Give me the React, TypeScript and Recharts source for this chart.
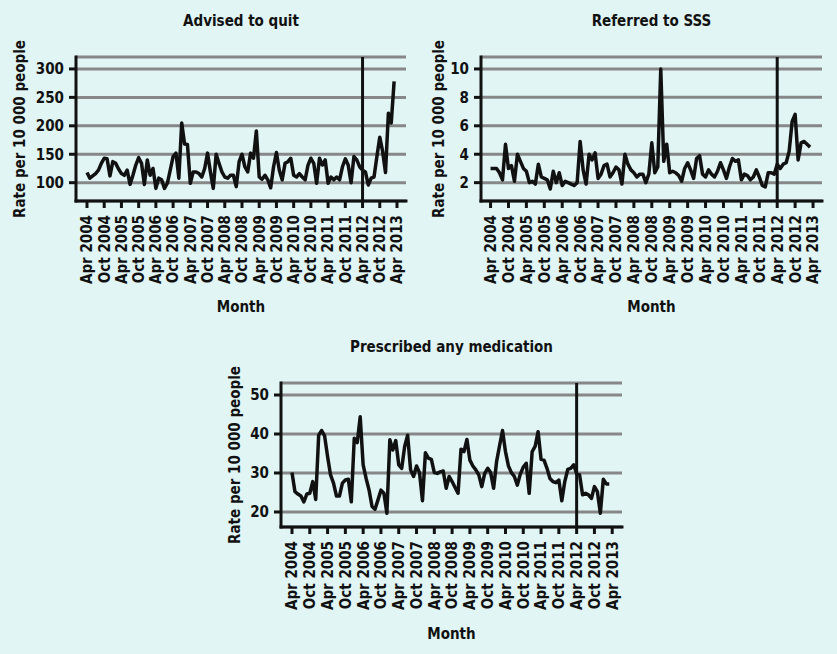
import React from "react";
import { LineChart, Line, XAxis, YAxis, CartesianGrid, ReferenceLine } from "recharts";

// x tick labels, one every 6 months from Apr 2004 (month index 0)
const tickLabels = [
  "Apr 2004", "Oct 2004", "Apr 2005", "Oct 2005", "Apr 2006", "Oct 2006", "Apr 2007",
  "Oct 2007", "Apr 2008", "Oct 2008", "Apr 2009", "Oct 2009", "Apr 2010", "Oct 2010",
  "Apr 2011", "Oct 2011", "Apr 2012", "Oct 2012", "Apr 2013",
];
const tickMonths = tickLabels.map((_, i) => i * 6);
const interventionMonth = 96; // Apr 2012

// monthly rates per 10 000 people, Apr 2004 - Mar 2013
const advised = [
  118, 108, 112, 116, 122, 134, 143, 142, 112, 137, 134, 124,
  116, 113, 122, 97, 113, 131, 144, 134, 97, 140, 113, 125,
  90, 108, 105, 90, 99, 122, 146, 152, 108, 205, 168, 167,
  99, 119, 119, 116, 110, 125, 152, 119, 90, 150, 134, 119,
  110, 108, 113, 113, 93, 137, 150, 128, 119, 152, 143, 191,
  110, 106, 113, 105, 91, 128, 153, 122, 105, 134, 137, 143,
  113, 110, 116, 110, 105, 131, 143, 134, 99, 143, 131, 140,
  99, 110, 105, 110, 105, 128, 142, 131, 100, 146, 140, 128,
  122, 119, 96, 108, 110, 146, 180, 155, 118, 222, 205, 278,
];

const referred = [
  3.0, 3.0, 3.0, 2.7, 2.2, 4.7, 3.0, 3.2, 2.1, 4.0, 3.5, 3.0,
  2.8, 2.0, 2.1, 1.9, 3.3, 2.4, 2.3, 2.2, 1.55, 2.8, 2.0, 2.7,
  1.8, 2.1, 2.0, 1.9, 1.8, 2.0, 4.9, 2.9, 1.9, 4.0, 3.6, 4.1,
  2.3, 2.6, 3.2, 3.3, 2.4, 2.7, 3.1, 2.9, 1.9, 4.0, 3.3, 2.9,
  2.7, 2.4, 2.6, 2.6, 2.0, 2.6, 4.8, 2.7, 3.1, 10.0, 3.5, 4.7,
  2.7, 2.8, 2.7, 2.5, 2.1, 3.0, 3.4, 2.9, 2.3, 3.7, 3.9, 2.6,
  2.4, 2.9, 2.6, 2.4, 2.8, 3.4, 2.9, 2.3, 3.1, 3.7, 3.5, 3.6,
  2.2, 2.6, 2.5, 2.2, 2.4, 2.9, 2.4, 1.8, 1.7, 2.7, 2.7, 2.6,
  3.3, 3.0, 3.3, 3.4, 4.2, 6.3, 6.8, 3.6, 4.8, 4.9, 4.7, 4.5,
];

const prescribed = [
  30.1, 25.2, 24.6, 24.1, 22.6, 24.6, 24.8, 27.8, 23.2, 39.7, 40.9, 39.5,
  34.2, 29.5, 27.4, 24.1, 24.1, 27.4, 28.2, 28.4, 22.6, 38.9, 37.8, 44.4,
  32.1, 28.6, 25.6, 21.4, 20.7, 23.1, 25.6, 24.8, 19.7, 38.5, 35.9, 38.3,
  32.1, 31.2, 36.8, 39.7, 30.8, 29.1, 31.8, 30.1, 22.9, 35.2, 33.8, 33.5,
  30.1, 29.9, 30.3, 30.5, 26.1, 29.1, 27.8, 26.3, 24.8, 36.1, 35.5, 38.6,
  33.3, 31.8, 30.8, 29.5, 26.5, 29.9, 31.2, 30.1, 26.1, 32.9, 37.0, 40.9,
  35.5, 31.8, 30.1, 29.1, 26.9, 29.7, 31.5, 32.5, 24.8, 35.5, 36.8, 40.6,
  33.5, 33.3, 31.2, 28.6, 27.8, 27.5, 28.2, 22.9, 27.8, 30.9, 31.2, 32.1,
  29.8, 29.5, 24.4, 24.8, 24.4, 23.5, 26.5, 25.2, 19.7, 28.4, 27.2, 27.2,
];

const FONT = "'DejaVu Sans Condensed', 'Liberation Sans Narrow', 'DejaVu Sans', sans-serif";
const INK = "#111111";
const GRID = "#878787";

const MonthTick = (props: any) => {
  const { x, y, payload } = props;
  return (
    <text
      x={x}
      y={y}
      dy="0.36em"
      transform={`rotate(-90, ${x}, ${y})`}
      textAnchor="end"
      fontFamily={FONT}
      fontWeight={700}
      fontSize={15}
      fill={INK}
    >
      {tickLabels[Math.round(payload.value / 6)]}
    </text>
  );
};

interface PanelProps {
  title: string;
  values: number[];
  left: number;
  top: number;
  width: number;
  height: number;
  marginTop: number;
  marginRight: number;
  yAxisWidth: number;
  xAxisHeight: number;
  yDomain: [number, number];
  yTicks: number[];
  xDomain: [number, number];
  yLabelX: number;
  titleY: number;
  monthY: number;
}

function Panel(p: PanelProps) {
  const data = p.values.map((v, i) => ({ m: i, v }));
  const plotLeft = p.yAxisWidth;
  const plotWidth = p.width - p.yAxisWidth - p.marginRight;
  const plotMid = p.marginTop + (p.height - p.marginTop - p.xAxisHeight) / 2;
  const textStyle = { fontFamily: FONT, fontWeight: 700, fontSize: 15, color: INK };

  return (
    <div style={{ position: "absolute", left: p.left, top: p.top, width: p.width, height: p.height }}>
      <LineChart
        width={p.width}
        height={p.height}
        data={data}
        margin={{ top: p.marginTop, right: p.marginRight, bottom: 0, left: 0 }}
      >
        <CartesianGrid vertical={false} stroke={GRID} strokeWidth={3} />
        <XAxis
          type="number"
          dataKey="m"
          domain={p.xDomain}
          ticks={tickMonths}
          interval={0}
          allowDataOverflow
          height={p.xAxisHeight}
          axisLine={{ stroke: INK, strokeWidth: 3, strokeLinecap: "square" }}
          tickLine={{ stroke: INK, strokeWidth: 3 }}
          tickSize={7}
          tickMargin={7}
          tick={<MonthTick />}
        />
        <YAxis
          type="number"
          domain={p.yDomain}
          ticks={p.yTicks}
          interval={0}
          allowDataOverflow
          width={p.yAxisWidth}
          axisLine={{ stroke: INK, strokeWidth: 3, strokeLinecap: "square" }}
          tickLine={{ stroke: INK, strokeWidth: 3 }}
          tickSize={7}
          tickMargin={5}
          tick={{ fill: INK, fontFamily: FONT, fontWeight: 700, fontSize: 15 }}
        />
        <ReferenceLine x={interventionMonth} stroke={INK} strokeWidth={3} ifOverflow="extendDomain" />
        <Line
          type="linear"
          dataKey="v"
          stroke={INK}
          strokeWidth={3.5}
          strokeLinejoin="round"
          dot={false}
          activeDot={false}
          isAnimationActive={false}
        />
      </LineChart>
      <div
        style={{
          ...textStyle,
          position: "absolute",
          left: plotLeft,
          width: plotWidth,
          top: p.titleY - 9,
          lineHeight: "18px",
          textAlign: "center",
        }}
      >
        {p.title}
      </div>
      <div
        style={{
          ...textStyle,
          position: "absolute",
          left: plotLeft,
          width: plotWidth,
          top: p.monthY - 9,
          lineHeight: "18px",
          textAlign: "center",
        }}
      >
        Month
      </div>
      <div
        style={{
          ...textStyle,
          position: "absolute",
          left: p.yLabelX - 120,
          top: plotMid - 9,
          width: 240,
          lineHeight: "18px",
          textAlign: "center",
          transform: "rotate(-90deg)",
          whiteSpace: "nowrap",
        }}
      >
        Rate per 10 000 people
      </div>
    </div>
  );
}

export default function App() {
  return (
    <div
      style={{
        position: "absolute",
        left: 0,
        top: 0,
        width: 837,
        height: 654,
        background: "#e0f5f4",
        overflow: "hidden",
      }}
    >
      <Panel
        title="Advised to quit"
        values={advised}
        left={0}
        top={0}
        width={420}
        height={320}
        marginTop={57}
        marginRight={14}
        yAxisWidth={76}
        xAxisHeight={119}
        yDomain={[67.8, 321]}
        yTicks={[100, 150, 200, 250, 300]}
        xDomain={[-3.83, 111.14]}
        yLabelX={20}
        titleY={21}
        monthY={307}
      />
      <Panel
        title="Referred to SSS"
        values={referred}
        left={420}
        top={0}
        width={417}
        height={320}
        marginTop={57}
        marginRight={15}
        yAxisWidth={61}
        xAxisHeight={119}
        yDomain={[0.71, 10.84]}
        yTicks={[2, 4, 6, 8, 10]}
        xDomain={[-3.2, 111.0]}
        yLabelX={18.5}
        titleY={21}
        monthY={307}
      />
      <Panel
        title="Prescribed any medication"
        values={prescribed}
        left={210}
        top={330}
        width={420}
        height={324}
        marginTop={53}
        marginRight={8}
        yAxisWidth={71}
        xAxisHeight={127}
        yDomain={[16.15, 53.08]}
        yTicks={[20, 30, 40, 50]}
        xDomain={[-3.71, 111.3]}
        yLabelX={25}
        titleY={17}
        monthY={304}
      />
    </div>
  );
}
